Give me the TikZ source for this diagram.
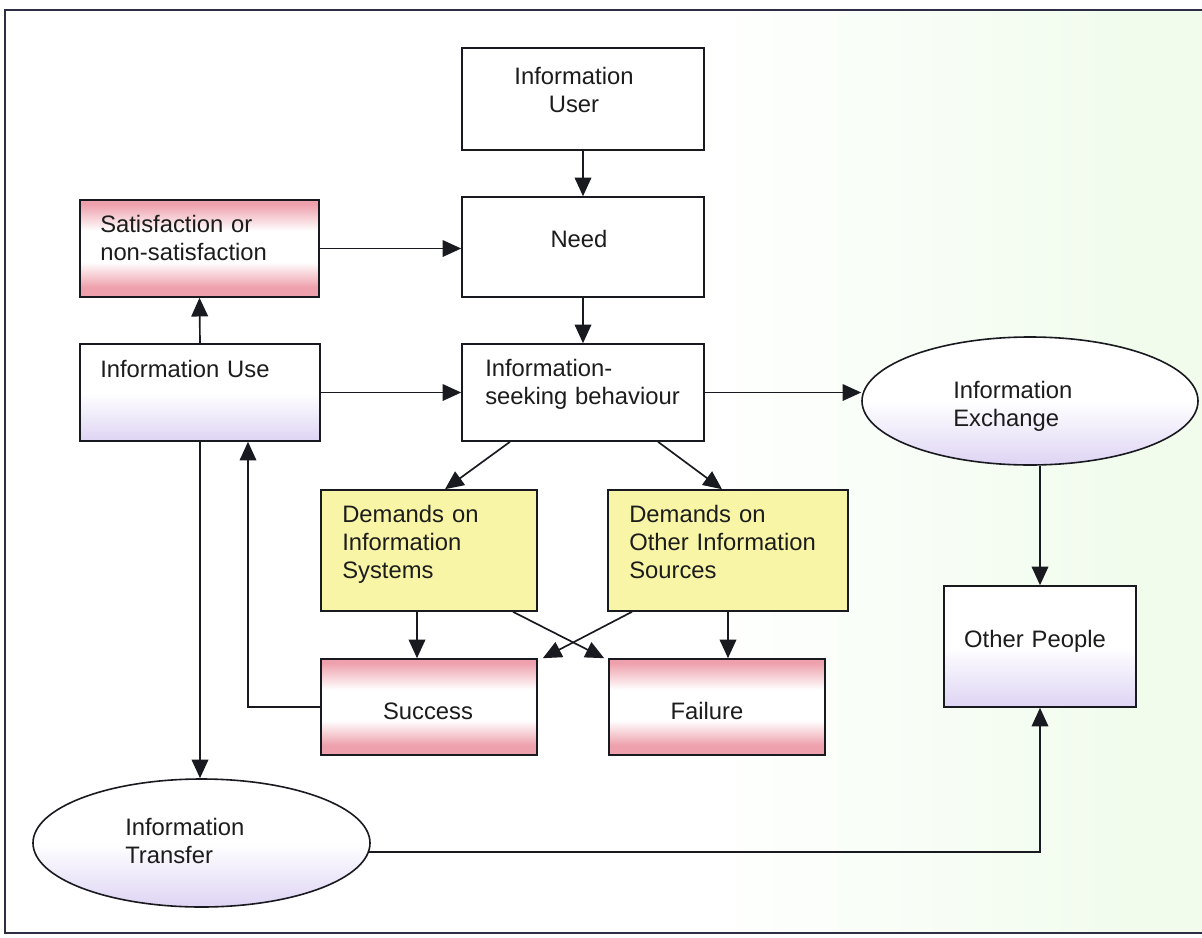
\documentclass[tikz,border=0pt]{standalone}
\usepackage{fontspec}
\setmainfont{Liberation Sans}
\usetikzlibrary{arrows.meta,shapes.geometric,calc}
\definecolor{pinkc}{RGB}{238,160,172}
\definecolor{lavc}{RGB}{222,212,244}
\definecolor{yelc}{RGB}{248,246,166}
\definecolor{bgG}{RGB}{241,252,237}
\definecolor{linec}{RGB}{25,25,32}
\definecolor{framec}{RGB}{45,45,70}
\definecolor{textc}{RGB}{28,28,28}
\pgfdeclareverticalshading{pinkband}{100bp}{color(0bp)=(pinkc); color(25bp)=(pinkc); color(30bp)=(pinkc); color(43bp)=(white); color(59bp)=(white); color(73bp)=(pinkc); color(100bp)=(pinkc)}
\pgfdeclareverticalshading{lavband}{100bp}{color(0bp)=(lavc); color(25bp)=(lavc); color(50bp)=(white); color(100bp)=(white)}
\pgfdeclarehorizontalshading{bgshade}{100bp}{color(0bp)=(white); color(54bp)=(white); color(72bp)=(bgG); color(100bp)=(bgG)}
\newcommand{\pxu}{0.75pt}
\tikzset{
  bx/.style n args={2}{minimum width=#1*0.75pt, minimum height=#2*0.75pt, inner sep=0pt},
  boxbase/.style={draw=linec, line width=1.2pt, rectangle},
  plainbox/.style={boxbase, fill=white},
  pinkbox/.style={boxbase, shade, shading=pinkband},
  lavbox/.style={boxbase, shade, shading=lavband},
  yelbox/.style={boxbase, fill=yelc},
  lavell/.style={draw=linec, line width=1.2pt, ellipse, shade, shading=lavband},
  lbl/.style={text=textc, inner sep=0pt, text width=260*0.75pt, align=left, font=\fontsize{17.85}{21}\selectfont},
  arr/.style={draw=linec, line width=1.25pt, -{Triangle[length=14pt,width=12.5pt]}}
}
\begin{document}
\begin{tikzpicture}[x=0.75pt, y=-0.75pt]
\useasboundingbox (0,0) rectangle (1202,938);
\shade[shading=bgshade] (5,10) rectangle (1202,933);
\draw[framec, line width=1.5pt] (1202,10) -- (5,10) -- (5,933) -- (1202,933);

% boxes
\node[plainbox, bx={242}{102}] (U) at (583,99) {};
\node[plainbox, bx={242}{100}] (N) at (583,247) {};
\node[pinkbox, bx={239}{97}] (S) at (199.5,248.5) {};
\node[lavbox, bx={240}{97}] (IU) at (200,392.5) {};
\node[plainbox, bx={242}{97}] (ISB) at (583,392.5) {};
\node[lavell, bx={336}{128}] (E) at (1030,401) {};
\node[yelbox, bx={216}{121}] (DIS) at (429,550.5) {};
\node[yelbox, bx={240}{121}] (DOS) at (728,550.5) {};
\node[pinkbox, bx={216}{96}] (SU) at (429,707) {};
\node[pinkbox, bx={216}{96}] (F) at (717,707) {};
\node[lavbox, bx={192}{121}] (OP) at (1040,646.5) {};
\node[lavell, bx={337}{128}] (T) at (201.5,843) {};

% labels
\node[lbl, anchor=base, align=center] (Ut) at (574,85) {Information\\User};
\node[lbl, anchor=base, align=center] (Nt) at (579,247) {Need};
\node[lbl, anchor=base west] (St) at (100,232) {Satisfaction or\\non-satisfaction};
\node[lbl, anchor=base west] (IUt) at (100,377) {Information Use};
\node[lbl, anchor=base west] (ISBt) at (485,376) {Information-\\seeking behaviour};
\node[lbl, anchor=base west] (Et) at (953,398) {Information\\Exchange};
\node[lbl, anchor=base west] (DISt) at (342,522) {Demands on\\Information\\Systems};
\node[lbl, anchor=base west] (DOSt) at (629,522) {Demands on\\Other Information\\Sources};
\node[lbl, anchor=base, align=center] (SUt) at (428,719) {Success};
\node[lbl, anchor=base, align=center] (Ft) at (707,719) {Failure};
\node[lbl, anchor=base, align=center] (OPt) at (1035,647) {Other People};
\node[lbl, anchor=base west] (Tt) at (125,835) {Information\\Transfer};

% connectors
\draw[arr] (U.south) -- (N.north);
\draw[arr] (S.east) -- (S.east -| N.west);
\draw[arr] (N.south) -- (ISB.north);
\draw[arr] (IU.north) -- (S.south);
\draw[arr] (IU.east) -- (ISB.west);
\draw[arr] (ISB.east) -- (ISB.east -| E.west);
\draw[arr] ([xshift=-73*\pxu]ISB.south) -- ([xshift=16*\pxu]DIS.north);
\draw[arr] ([xshift=75*\pxu]ISB.south) -- ([xshift=-6*\pxu]DOS.north);
\draw[arr] ([xshift=-12*\pxu]DIS.south) -- ([xshift=-12*\pxu]SU.north);
\draw[arr] (DOS.south) -- (DOS.south |- F.north);
\draw[arr] ([xshift=84*\pxu]DIS.south) -- ([xshift=-4*\pxu]F.north west);
\draw[arr] ([xshift=-96*\pxu]DOS.south) -- ([xshift=5*\pxu]SU.north east);
\draw[arr] (SU.west) -| ([xshift=48*\pxu]IU.south);
\draw[arr] (IU.south) -- (IU.south |- T.north);
\draw[arr] (OP.north |- E.south) -- (OP.north);
\draw[arr] (T.-3.5) -| (OP.south);
\end{tikzpicture}
\end{document}
